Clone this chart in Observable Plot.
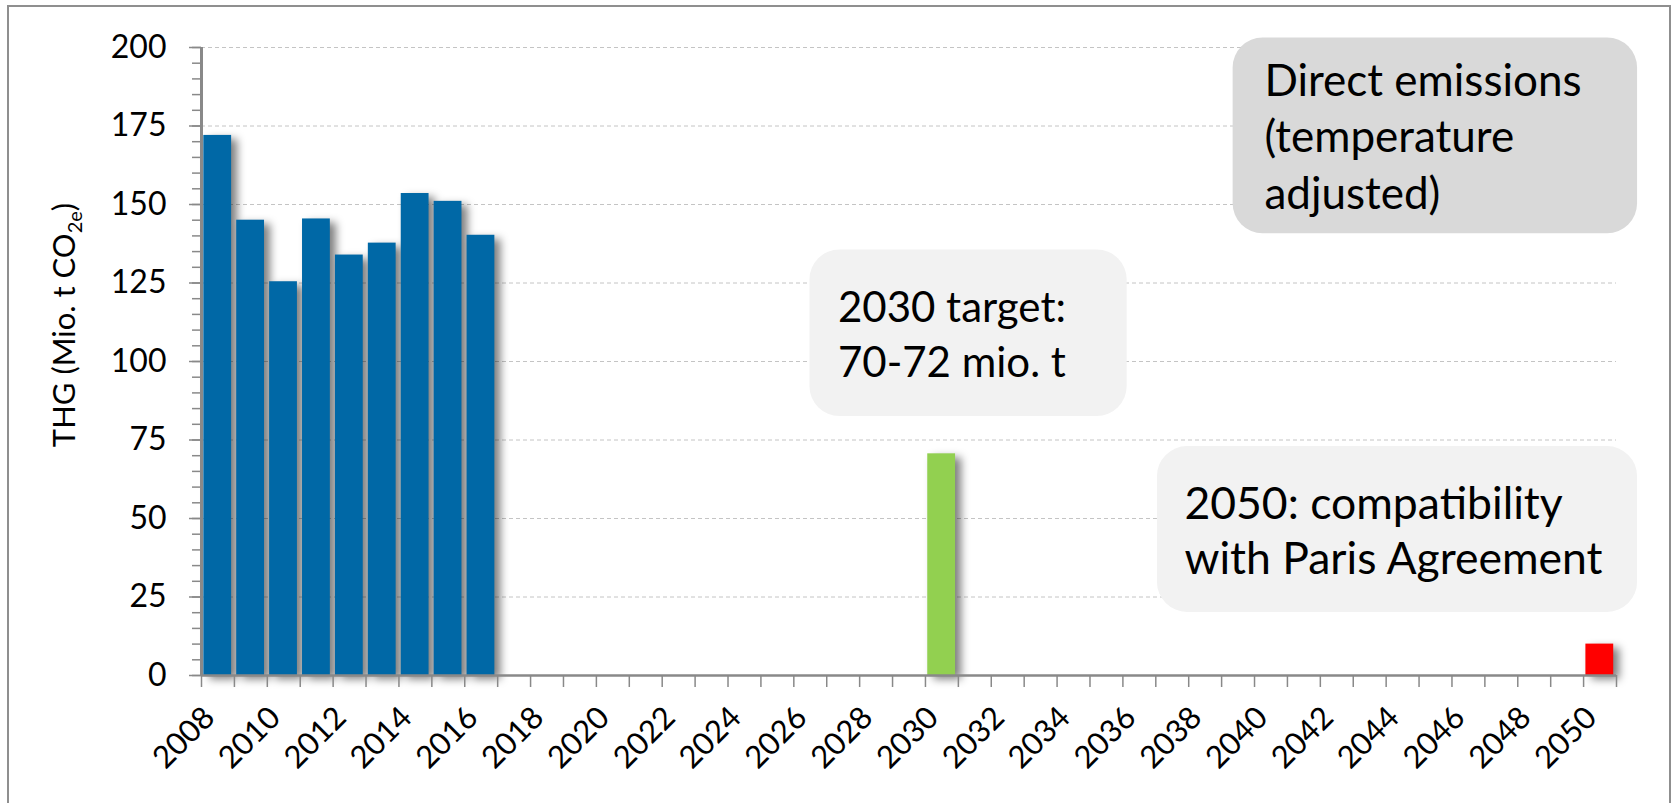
<!DOCTYPE html>
<html>
<head>
<meta charset="utf-8">
<script src="https://cdn.jsdelivr.net/npm/d3@7"></script>
<script src="https://cdn.jsdelivr.net/npm/@observablehq/plot@0.6"></script>
<style>
html, body { margin: 0; padding: 0; overflow: hidden; background: #fff; }
#wrap { position: relative; width: 1673px; height: 803px; overflow: hidden; }
#frame { position: absolute; left: 7px; top: 5px; width: 1664px; height: 900px; border: 2px solid #8f8f8f; box-sizing: border-box; pointer-events: none; }
</style>
</head>
<body>
<div id="wrap"><div id="chart"></div><div id="frame"></div></div>
<script>
// ---- data ----
const barYears = [2008, 2009, 2010, 2011, 2012, 2013, 2014, 2015, 2016];
const barValues = [172, 145, 125.4, 145.4, 133.9, 137.7, 153.5, 151, 140.2];
const targetYears = [2030, 2050];
const targetValues = [70.6, 10];
const yTicks = [0, 25, 50, 75, 100, 125, 150, 175, 200];
const xTickLabels = ["2008","2010","2012","2014","2016","2018","2020","2022","2024","2026","2028",
  "2030","2032","2034","2036","2038","2040","2042","2044","2046","2048","2050"];
const yLabelParts = ["THG (Mio. t CO", "2e", ")"];
const noteTexts = [
  "Direct emissions\n(temperature\nadjusted)",
  "2030 target:\n70-72 mio. t",
  "2050: compatibility\nwith Paris Agreement"
];

// ---- layout (annotation boxes / text anchors in data units) ----
const noteLayout = [
  {x1: 2039.35, x2: 2051.64, y1: 140.7, y2: 203.0, tx: 2040.30, ty: 148.56, fill: "#d9d9d9", size: 44, lh: 1.29},
  {x1: 2026.49, x2: 2036.13, y1: 82.5, y2: 135.5, tx: 2027.34, ty: 95.18, fill: "#f2f2f2", size: 42, lh: 1.31},
  {x1: 2037.05, x2: 2051.64, y1: 20.1, y2: 72.9, tx: 2037.87, ty: 32.37, fill: "#f2f2f2", size: 44.5, lh: 1.236}
];
const notes = noteTexts.map((text, i) => ({text, ...noteLayout[i]}));

const bars = [
  ...barYears.map((year, i) => ({year, value: barValues[i], color: "#0068a6"})),
  ...targetYears.map((year, i) => ({year, value: targetValues[i], color: i === 0 ? "#92d050" : "#ff0000"}))
];

const FONT = "Lato, 'Open Sans', sans-serif";
const axisGray = "#898989";

const plot = Plot.plot({
  width: 1673,
  height: 803,
  marginLeft: 201,
  marginRight: 57,
  marginTop: 47,
  marginBottom: 128,
  x: {type: "linear", domain: [2008, 2051], label: null},
  y: {domain: [0, 200], label: null},
  color: {type: "identity"},
  style: {fontFamily: FONT, fontSize: "32px", color: "#000", background: "transparent", overflow: "visible"},
  marks: [
    Plot.gridY(yTicks.slice(1), {stroke: "#c4c4c4", strokeOpacity: 1, strokeDasharray: "4,3", strokeWidth: 1}),
    // shadows
    Plot.rect(bars, {x1: "year", x2: d => d.year + 1, y1: 0, y2: "value", insetLeft: 2.3, insetRight: 2.8,
      dx: 6, dy: 4, fill: "#000", fillOpacity: 0.5, ariaLabel: "bar-shadow"}),
    // bars
    Plot.rect(bars, {x1: "year", x2: d => d.year + 1, y1: 0, y2: "value", insetLeft: 2.3, insetRight: 2.8,
      fill: "color"}),
    // axes lines
    Plot.ruleY([0], {stroke: axisGray, strokeWidth: 2.5}),
    Plot.ruleX([2008], {stroke: axisGray, strokeWidth: 3}),
    // y axis ticks
    Plot.axisY(d3.range(0, 201, 5), {tickSize: 9, tickFormat: () => "", stroke: axisGray, strokeWidth: 1.5, label: null}),
    Plot.axisY(yTicks, {tickSize: 12, tickPadding: 23, stroke: axisGray, strokeWidth: 1.5, fontSize: 32, fill: "#000", label: null}),
    // x axis ticks at category boundaries
    Plot.axisX(d3.range(2008, 2052), {tickSize: 12, tickFormat: () => "", stroke: axisGray, strokeWidth: 1.5, label: null}),
    // x labels
    Plot.text(xTickLabels, {x: d => +d + 0.5, frameAnchor: "bottom", text: d => d, rotate: -45,
      textAnchor: "end", dx: -1.6, dy: 44, fontSize: 31, fill: "#000"}),
    // annotation boxes
    Plot.rect(notes, {x1: "x1", x2: "x2", y1: "y1", y2: "y2", fill: "fill", rx: 30}),
    ...notes.map(n => Plot.text([n], {x: "tx", y: "ty", text: "text", textAnchor: "start",
      lineAnchor: "bottom", lineHeight: n.lh, fontSize: n.size, fill: "#000"}))
  ]
});

document.getElementById("chart").appendChild(plot);

const svg = d3.select(plot);
const defs = svg.insert("defs", ":first-child");
defs.append("filter").attr("id", "blurShadow")
  .attr("x", "-50%").attr("y", "-50%").attr("width", "200%").attr("height", "200%")
  .append("feGaussianBlur").attr("stdDeviation", 4);
let shadowG = svg.selectAll('[aria-label="bar-shadow"]');
if (shadowG.empty()) shadowG = svg.selectAll('g[fill-opacity="0.5"]');
shadowG.attr("filter", "url(#blurShadow)").style("filter", "blur(4px)");

// y axis title with subscript
const t = svg.append("text")
  .attr("transform", "translate(75,325) rotate(-90)")
  .attr("text-anchor", "middle")
  .attr("font-family", FONT)
  .attr("font-size", 31)
  .attr("fill", "#000");
t.append("tspan").text(yLabelParts[0]);
t.append("tspan").attr("font-size", 20).attr("dy", 7).text(yLabelParts[1]);
t.append("tspan").attr("dy", -7).text(yLabelParts[2]);
</script>
</body>
</html>
